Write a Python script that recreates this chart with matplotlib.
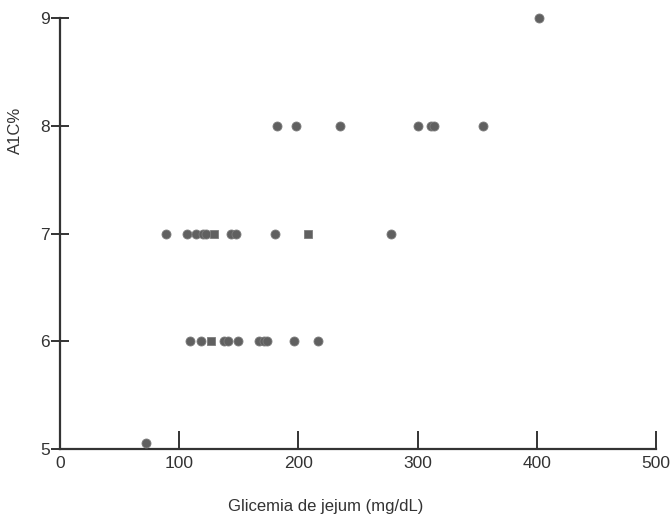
import matplotlib
matplotlib.use("Agg")
import matplotlib.pyplot as plt

plt.rcParams['font.family'] = ['Liberation Sans', 'DejaVu Sans']

# Circle markers
circle_x = [72,
            109, 118, 138, 140.6, 149.5, 167, 171, 174, 196, 216.5,
            88.6, 106.5, 113.7, 120, 122.4, 143.3, 148, 180, 278,
            182, 198, 235, 300, 311, 314, 355,
            402]
circle_y = [5.06,
            6, 6, 6, 6, 6, 6, 6, 6, 6, 6,
            7, 7, 7, 7, 7, 7, 7, 7, 7,
            8, 8, 8, 8, 8, 8, 8,
            9]
# Square markers
square_x = [127, 129, 208]
square_y = [6, 7, 7]

x_ticks = [0, 100, 200, 300, 400, 500]
y_ticks = [5, 6, 7, 8, 9]

fig = plt.figure(figsize=(6.7, 5.22), dpi=100)
ax = fig.add_axes([60/670, 1-449/522, 596/670, 431/522])

dark = '#606060'
ax.plot(circle_x, circle_y, 'o', ms=6.5, mfc=dark, mec='#7c7c7c', mew=0.6, clip_on=False, zorder=3)
ax.plot(square_x, square_y, 's', ms=5.5, mfc=dark, mec='#7c7c7c', mew=0.6, clip_on=False, zorder=3)

ax.set_xlim(0, 500)
ax.set_ylim(5, 9)
ax.set_xticks(x_ticks)
ax.set_yticks(y_ticks)
ax.set_xticklabels([str(v) for v in x_ticks])
ax.set_yticklabels([str(v) for v in y_ticks])

for s in ['top', 'right']:
    ax.spines[s].set_visible(False)
for s in ['left', 'bottom']:
    ax.spines[s].set_color('#333333')
    ax.spines[s].set_linewidth(1.6)

ax.tick_params(axis='x', direction='in', length=13, width=1.4, color='#333333',
               labelsize=12.5, labelcolor='#333333', pad=5)
ax.tick_params(axis='y', direction='inout', length=13, width=1.4, color='#333333',
               labelsize=12.5, labelcolor='#333333', pad=1)

ax.set_xlabel('Glicemia de jejum (mg/dL)', fontsize=12, color='#333333', family='Liberation Sans')
ax.xaxis.set_label_coords(0.446, -0.117)
ax.set_ylabel('A1C%', fontsize=12, color='#333333', family='Liberation Sans')
ax.yaxis.set_label_coords(-0.062, 0.74)

fig.savefig('out.png', dpi=100)
